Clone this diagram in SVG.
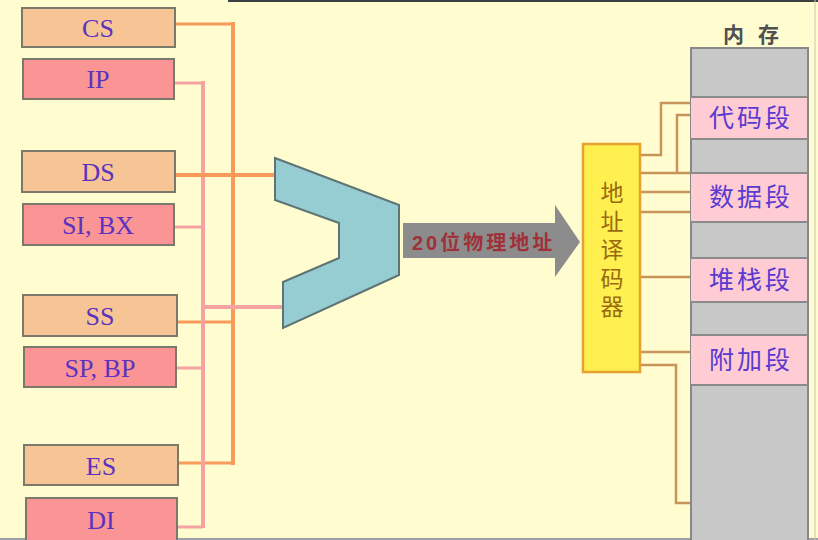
<svg xmlns="http://www.w3.org/2000/svg" width="818" height="540" viewBox="0 0 818 540">
<style>
.reg{stroke:#7a7a6a;stroke-width:2}
.seg{fill:#f7c595}
.idx{fill:#fb9494}
.rt{font-family:"Liberation Serif","DejaVu Serif",serif;font-size:26px;fill:#5a32c0;text-anchor:middle}
.org{stroke:#f99a5a;fill:none}
.pnk{stroke:#f4a2a2;fill:none}
.br{stroke:#c8945a;stroke-width:2.5;fill:none}
.mt{font-family:"Noto Sans CJK SC",sans-serif;font-size:25px;fill:#5a3ad0;text-anchor:middle;letter-spacing:3px}
.gray{fill:#c8c8c8}
.pk{fill:#ffccd4}
.sep{stroke:#8a8a8a;stroke-width:2}
</style>
<rect x="0" y="0" width="818" height="540" fill="#fffdd0"/>
<line x1="228" y1="1" x2="818" y2="1" stroke="#3a4040" stroke-width="2"/>
<line x1="0" y1="539" x2="818" y2="539" stroke="#9aa0a8" stroke-width="2"/>

<g id="connectors">
  <path class="org" stroke-width="3" d="M175,24 H233"/>
  <path class="org" stroke-width="4" d="M233,22 V465"/>
  <path class="org" stroke-width="3" d="M177,322 H233"/>
  <path class="org" stroke-width="3" d="M178,463 H233"/>
  <path class="pnk" stroke-width="3" d="M174,83 H203"/>
  <path class="pnk" stroke-width="4" d="M203,81 V528"/>
  <path class="pnk" stroke-width="3" d="M174,227 H203"/>
  <path class="pnk" stroke-width="3" d="M176,368 H203"/>
  <path class="pnk" stroke-width="3" d="M177,527 H203"/>
  <path class="pnk" stroke-width="4" d="M203,307 H285"/>
  <path class="org" stroke-width="4" d="M175,175 H276"/>
  <path class="br" d="M640,155 H661 V103 H691"/>
  <path class="br" d="M640,173 H691"/>
  <path class="br" d="M677,173 V115 H691"/>
  <path class="br" d="M640,192 H691"/>
  <path class="br" d="M640,212 H691"/>
  <path class="br" d="M640,277 H691"/>
  <path class="br" d="M640,352 H691"/>
  <path class="br" d="M640,365 H676 V503 H691"/>
</g>

<g id="cs"><rect class="reg seg" x="22" y="8" width="153" height="39"/><text class="rt" x="98" y="37">CS</text></g>
<g id="ip"><rect class="reg idx" x="23" y="59" width="151" height="40"/><text class="rt" x="98" y="88">IP</text></g>
<g id="ds"><rect class="reg seg" x="22" y="151" width="153" height="41"/><text class="rt" x="98" y="181">DS</text></g>
<g id="sibx"><rect class="reg idx" x="23" y="204" width="151" height="41"/><text class="rt" x="98" y="234">SI, BX</text></g>
<g id="ss"><rect class="reg seg" x="23" y="295" width="154" height="41"/><text class="rt" x="100" y="325">SS</text></g>
<g id="spbp"><rect class="reg idx" x="24" y="347" width="152" height="40"/><text class="rt" x="100" y="377">SP, BP</text></g>
<g id="es"><rect class="reg seg" x="24" y="445" width="154" height="40"/><text class="rt" x="101" y="475">ES</text></g>
<g id="di"><rect class="reg idx" x="26" y="498" width="151" height="46"/><text class="rt" x="101" y="529">DI</text></g>

<g id="adder">
  <polygon points="275,158 399,205 399,275 283,328 283,282 339,258 339,223 275,200" fill="#96cdd2" stroke="#5f7575" stroke-width="2"/>
</g>

<g id="arrow">
  <polygon points="403,223 555,223 555,205 580,242 555,277 555,258 403,258" fill="#8c8c8c"/>
  <text x="412" y="250" font-family="'Liberation Sans','Noto Sans CJK SC',sans-serif" font-size="20" font-weight="bold" fill="#a0303a" letter-spacing="3">20位物理地址</text>
</g>

<g id="decoder">
  <rect x="583" y="144" width="57" height="228" fill="#fff050" stroke="#e8a030" stroke-width="2.5"/>
  <text x="612" y="181" writing-mode="vertical-rl" font-family="'Noto Sans CJK SC',sans-serif" font-size="23" fill="#9a6a10" letter-spacing="5.5">地址译码器</text>
</g>

<g id="memory">
  <text x="758" y="42" font-family="'Noto Sans CJK SC',sans-serif" font-size="21" font-weight="bold" fill="#505050" text-anchor="middle" letter-spacing="14">内存</text>
  <rect class="gray" x="691" y="48" width="117" height="494" stroke="#888" stroke-width="2"/>
  <rect class="pk" x="691" y="97" width="117" height="42"/>
  <rect class="pk" x="691" y="173" width="117" height="49"/>
  <rect class="pk" x="691" y="258" width="117" height="44"/>
  <rect class="pk" x="691" y="335" width="117" height="50"/>
  <line class="sep" x1="691" y1="97" x2="808" y2="97"/>
  <line class="sep" x1="691" y1="139" x2="808" y2="139"/>
  <line class="sep" x1="691" y1="173" x2="808" y2="173"/>
  <line class="sep" x1="691" y1="222" x2="808" y2="222"/>
  <line class="sep" x1="691" y1="258" x2="808" y2="258"/>
  <line class="sep" x1="691" y1="302" x2="808" y2="302"/>
  <line class="sep" x1="691" y1="335" x2="808" y2="335"/>
  <line class="sep" x1="691" y1="385" x2="808" y2="385"/>
  <line x1="808" y1="48" x2="808" y2="540" stroke="#888" stroke-width="2"/>
  <line x1="815" y1="0" x2="815" y2="540" stroke="#c8c8b0" stroke-width="1"/>
  <text class="mt" x="751" y="127">代码段</text>
  <text class="mt" x="751" y="206">数据段</text>
  <text class="mt" x="751" y="289">堆栈段</text>
  <text class="mt" x="751" y="369">附加段</text>
</g>
</svg>
